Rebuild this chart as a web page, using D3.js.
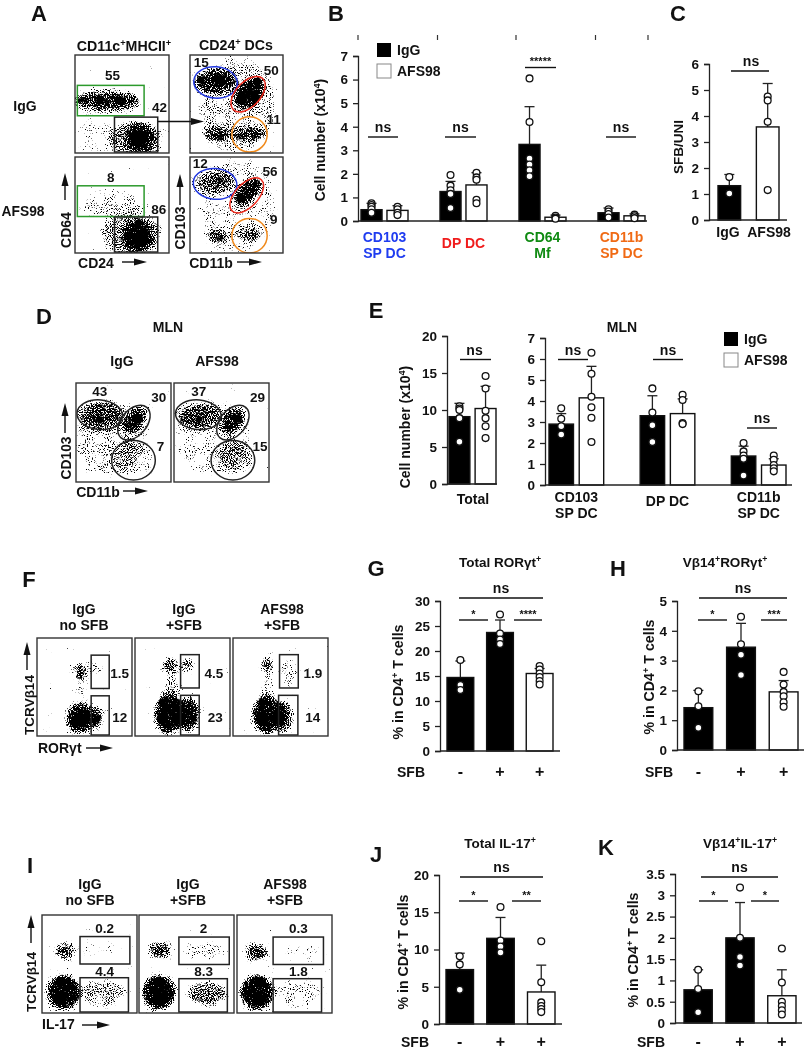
<!DOCTYPE html>
<html>
<head>
<meta charset="utf-8">
<script src="https://cdn.jsdelivr.net/npm/d3@7"></script>
<style>
  html, body { margin: 0; padding: 0; background: #fff; }
  svg { display: block; filter: blur(0.35px); }
  text { font-family: "Liberation Sans", Arial, sans-serif; font-weight: bold; fill: #111; }
</style>
</head>
<body>
<svg id="fig" width="805" height="1050"></svg>
<script>
// ---- bar chart values ----
const bCategories = [["CD103", "SP DC"], ["DP DC"], ["CD64", "Mf"], ["CD11b", "SP DC"]]
const bColors = ["#1f3cf0", "#f01c1c", "#0f8a12", "#f06a14"]
const bMeansIgG = [0.48, 1.25, 3.25, 0.35]
const bMeansAFS = [0.45, 1.53, 0.16, 0.22]
const bErrIgG = [0.75, 1.68, 4.85, 0.55]
const bErrAFS = [0.65, 2.05, 0.25, 0.3]
const bPtsIgG = [[0.75, 0.68, 0.6, 0.5, 0.35], [1.95, 1.5, 1.3, 1.15, 0.55], [6.05, 4.2, 2.65, 2.4, 2.15, 1.9], [0.5, 0.4, 0.3, 0.15]]
const bPtsAFS = [[0.6, 0.5, 0.35, 0.25], [2.05, 1.85, 1.75, 0.9, 0.75], [0.22, 0.15, 0.1], [0.27, 0.2, 0.12]]

const cMeans = [[1.32], [3.58]]
const cErr = [[1.75], [5.25]]
const cPts = [[[1.65, 1.02]], [[4.75, 4.6, 3.78, 1.15]]]

const eTotalMeans = [[9.1], [10.2]]
const eTotalErr = [[10.9], [13.2]]
const eTotalPts = [[[10.5, 10.2, 10, 8.9, 5.7]], [[14.6, 12.9, 9.9, 8.9, 7.8, 6.2]]]

const eCategories = [["CD103", "SP DC"], ["DP DC"], ["CD11b", "SP DC"]]
const eMeansIgG = [2.9, 3.3, 1.38]
const eMeansAFS = [4.15, 3.4, 0.95]
const eErrIgG = [3.4, 4.25, 1.85]
const eErrAFS = [5.65, 4.1, 1.25]
const ePtsIgG = [[3.65, 3.15, 2.8, 2.4], [4.6, 3.45, 2.85, 2.05], [2, 1.6, 1.4, 1.25, 0.45]]
const ePtsAFS = [[6.3, 5.3, 4.2, 3.7, 3.2, 2.05], [4.3, 4.05, 2.95, 2.9], [1.4, 1.2, 0.95, 0.8, 0.65]]

const sfbLabels = ["-", "+", "+"]
const sfbFills = ["#000", "#000", "#fff"]
const gMeans = [14.7, 23.7, 15.5]
const gErr = [18, 26.2, 16.5]
const gPts = [[18.2, 13.2, 12.2], [27.3, 23.5, 22.3, 21.4], [17, 16.3, 15.5, 14.8, 14, 13.3]]
const hMeans = [1.42, 3.45, 1.95]
const hErr = [2, 4.25, 2.33]
const hPts = [[1.97, 1.47, 0.75], [4.47, 3.55, 3.2, 2.52], [2.62, 2.2, 1.95, 1.8, 1.6, 1.45]]
const jMeans = [7.3, 11.5, 4.3]
const jErr = [9.5, 14.3, 7.9]
const jPts = [[9.1, 8, 4.6], [15.7, 11.2, 10.4, 9.6], [11.1, 5.6, 2.9, 2.4, 2, 1.6]]
const kMeans = [0.78, 2, 0.64]
const kErr = [1.25, 2.83, 1.25]
const kPts = [[1.25, 0.8, 0.25], [3.18, 2, 1.55, 1.35], [1.75, 0.95, 0.5, 0.4, 0.3, 0.2]]

// ---- flow plots: populations as [x%, y% from top, rx%, ry%, angle, density], no single events ----
const aCd64Igg = [[20, 82, 18, 16, 0, 0.22], [65, 85, 25, 15, 0, 0.55], [34, 47, 31, 9, 0, 0.8], [69, 85, 12, 13, 0, 1]]
const aCd64Afs = [[40, 50, 30, 12, 0, 0.32], [60, 80, 28, 18, 0, 0.5], [67, 83, 14, 14, 0, 1]]
const aCd103Igg = [[50, 50, 36, 42, 0, 0.34], [27, 27, 20, 10, 0, 0.8], [64, 39, 16, 10, -50, 1], [29, 81, 13, 6, 0, 0.7], [64, 81, 15, 6, 0, 0.7]]
const aCd103Afs = [[50, 50, 36, 42, 0, 0.28], [25, 26, 20, 10, 0, 0.55], [62, 36, 15, 8, -45, 0.9], [29, 83, 10, 6, 0, 0.65], [64, 81, 12, 6, 0, 0.55]]
const dIgg = [[35, 55, 33, 32, 0, 0.34], [25, 32, 20, 12, 0, 0.62], [62, 37, 14, 8, -50, 0.85], [60, 75, 18, 15, 0, 0.3]]
const dAfs = [[40, 55, 34, 32, 0, 0.28], [25, 33, 20, 11, 0, 0.62], [62, 38, 14, 8, -50, 0.85], [65, 75, 17, 14, 0, 0.42]]
const fNoSfb = [[46, 55, 5, 20, 0, 0.3], [46, 34, 6, 9, 0, 0.7], [62, 30, 6, 8, 0, 0.35], [60, 81, 8, 10, 0, 0.85], [45, 82, 12, 13, 0, 1]]
const fIggSfb = [[40, 50, 8, 15, 0, 0.38], [37, 27, 7, 6, 0, 0.8], [55, 28, 6, 6, 0, 0.7], [56, 78, 10, 15, 0, 0.95], [35, 77, 12, 18, 0, 1]]
const fAfsSfb = [[36, 50, 6, 15, 0, 0.32], [36, 27, 6, 6, 0, 0.8], [58, 35, 10, 12, 0, 0.3], [52, 80, 9, 14, 0, 0.85], [35, 78, 12, 17, 0, 1]]
const iNoSfb = [[60, 35, 20, 10, 0, 0.16], [65, 80, 20, 12, 0, 0.45], [24, 37, 9, 8, 0, 0.75], [23, 79, 15, 15, 0, 1]]
const iIggSfb = [[70, 37, 20, 10, 0, 0.28], [72, 80, 18, 11, 0, 0.62], [22, 36, 10, 8, 0, 0.75], [21, 79, 15, 15, 0, 1]]
const iAfsSfb = [[70, 40, 20, 8, 0, 0.18], [65, 80, 22, 12, 0, 0.3], [21, 38, 10, 8, 0, 0.75], [21, 79, 15, 15, 0, 1]]

const svg = d3.select("#fig")
const defs = svg.append("defs")
const sup = s => `<tspan baseline-shift="30%" font-size="65%">${s}</tspan>`

function txt(x, y, s, size, opts) {
  const o = opts || {}
  return svg.append("text")
    .attr("transform", o.rot ? `translate(${x},${y})rotate(${o.rot})` : `translate(${x},${y})`)
    .attr("text-anchor", o.anchor || "middle")
    .attr("dominant-baseline", "central")
    .attr("font-size", size)
    .style("fill", o.fill || "#111")
    .html(s)
}

// little black arrow next to the flow axis names
function arrow(x1, y1, x2, y2) {
  const a = Math.atan2(y2 - y1, x2 - x1) * 180 / Math.PI
  const len = Math.hypot(x2 - x1, y2 - y1)
  const g = svg.append("g").attr("transform", `translate(${x1},${y1})rotate(${a})`)
  g.append("line").attr("x2", len - 6).attr("stroke", "#111").attr("stroke-width", 1.4)
  g.append("path").attr("d", `M${len - 13},-3.5L${len},0L${len - 13},3.5Z`).attr("fill", "#111")
}

let plotId = 0
function flowPlot(x0, x1, y0, y1, clouds, gates, labels) {
  const x = d3.scaleLinear().domain([0, 100]).range([x0, x1])
  const y = d3.scaleLinear().domain([0, 100]).range([y0, y1])
  const id = "st" + (++plotId)
  // stipple texture for the dot clouds
  const f = defs.append("filter").attr("id", id)
    .attr("filterUnits", "userSpaceOnUse")
    .attr("x", x0).attr("y", y0).attr("width", x1 - x0).attr("height", y1 - y0)
    .attr("color-interpolation-filters", "sRGB")
  f.append("feGaussianBlur").attr("in", "SourceAlpha").attr("stdDeviation", 3.4).attr("result", "soft")
  f.append("feTurbulence").attr("type", "fractalNoise").attr("baseFrequency", 1.05).attr("numOctaves", 1).attr("seed", plotId * 7).attr("result", "tb")
  f.append("feColorMatrix").attr("in", "tb").attr("values", "0 0 0 0 0  0 0 0 0 0  0 0 0 0 0  0 0 0 1 0").attr("result", "noise")
  f.append("feComposite").attr("in", "soft").attr("in2", "noise").attr("operator", "arithmetic")
    .attr("k1", 0).attr("k2", 0.52).attr("k3", 1).attr("k4", -0.76).attr("result", "mix")
  f.append("feComponentTransfer").attr("in", "mix").append("feFuncA").attr("type", "linear").attr("slope", 12).attr("intercept", 0)

  const clip = defs.append("clipPath").attr("id", id + "c")
  clip.append("rect").attr("x", x0).attr("y", y0).attr("width", x1 - x0).attr("height", y1 - y0)

  const dots = svg.append("g").attr("filter", `url(#${id})`)
  dots.append("rect").attr("x", x0).attr("y", y0).attr("width", x1 - x0).attr("height", y1 - y0).attr("fill", "#000").attr("fill-opacity", 0.001)
  // the blur eats the rim of each cloud, so draw them a bit wider
  dots.selectAll("ellipse").data(clouds).enter().append("ellipse")
    .attr("transform", d => `translate(${x(d[0])},${y(d[1])})rotate(${d[4]})`)
    .attr("rx", d => (x(d[2]) - x0) * 1.18)
    .attr("ry", d => (y(d[3]) - y0) * 1.18)
    .attr("fill", "#000")
    .attr("fill-opacity", d => d[5])

  const g = svg.append("g").attr("clip-path", `url(#${id}c)`)
  ;(gates || []).forEach(t => {
    if (t.rect) {
      g.append("rect").attr("x", x(t.rect[0])).attr("y", y(t.rect[2]))
        .attr("width", x(t.rect[1]) - x(t.rect[0])).attr("height", y(t.rect[3]) - y(t.rect[2]))
        .attr("fill", "none").attr("stroke", t.c || "#222").attr("stroke-width", 1.5)
    } else {
      g.append("ellipse").attr("transform", `translate(${x(t.el[0])},${y(t.el[1])})rotate(${t.el[4] || 0})`)
        .attr("rx", x(t.el[2]) - x0).attr("ry", y(t.el[3]) - y0)
        .attr("fill", "none").attr("stroke", t.c || "#222").attr("stroke-width", 1.5)
    }
  })
  svg.append("rect").attr("x", x0).attr("y", y0).attr("width", x1 - x0).attr("height", y1 - y0)
    .attr("fill", "none").attr("stroke", "#333").attr("stroke-width", 1.4)
  ;(labels || []).forEach(l => txt(x(l[1]), y(l[2]), l[0], 13.5))
}

// one bar panel: groups along x, one or two bars in each group
function barChart(o) {
  const y = d3.scaleLinear().domain([0, o.yMax]).range([o.y0, o.yTop])
  const nGroups = o.means[0].length
  const gx = d3.scaleBand().domain(d3.range(nGroups)).range(o.barRange).paddingInner(o.groupPad || 0)
  const sx = d3.scaleBand().domain(d3.range(o.means.length)).range([0, gx.bandwidth()]).paddingInner(o.barPad || 0)

  svg.append("g")
    .attr("transform", `translate(${o.axisX},0)`)
    .call(d3.axisLeft(y).tickValues(o.ticks).tickFormat(d => d).tickSize(5).tickPadding(5))
    .call(g => g.selectAll("path,line").attr("stroke", "#222").attr("stroke-width", 1.3))
    .call(g => g.selectAll("text").attr("font-size", 13.5).attr("font-family", null))

  const bars = []
  o.means.forEach((ser, s) => ser.forEach((m, i) => bars.push({
    x: gx(i) + sx(s), mean: m, err: o.errs[s][i], pts: o.pts[s][i], fill: o.fill(s, i)
  })))

  svg.selectAll(null).data(bars).enter().append("line")
    .attr("x1", d => d.x + sx.bandwidth() / 2).attr("x2", d => d.x + sx.bandwidth() / 2)
    .attr("y1", d => y(d.mean)).attr("y2", d => y(d.err))
    .attr("stroke", "#222").attr("stroke-width", 1.3)
  svg.selectAll(null).data(bars).enter().append("line")
    .attr("x1", d => d.x + sx.bandwidth() / 2 - 5).attr("x2", d => d.x + sx.bandwidth() / 2 + 5)
    .attr("y1", d => y(d.err)).attr("y2", d => y(d.err))
    .attr("stroke", "#222").attr("stroke-width", 1.3)
  svg.selectAll(null).data(bars).enter().append("rect")
    .attr("x", d => d.x).attr("y", d => y(d.mean))
    .attr("width", sx.bandwidth()).attr("height", d => o.y0 - y(d.mean))
    .attr("fill", d => d.fill).attr("stroke", "#111").attr("stroke-width", 1.4)

  svg.append("line").attr("x1", o.axisX).attr("x2", o.axisEnd).attr("y1", o.y0).attr("y2", o.y0)
    .attr("stroke", "#222").attr("stroke-width", 1.3)

  bars.forEach(b => {
    svg.selectAll(null).data(b.pts).enter().append("circle")
      .attr("cx", b.x + sx.bandwidth() / 2).attr("cy", d => y(d)).attr("r", 3.4)
      .attr("fill", "#fff").attr("stroke", "#111").attr("stroke-width", 1.3)
  })

  ;(o.brackets || []).forEach(b => {
    svg.append("line").attr("x1", b[0]).attr("x2", b[1]).attr("y1", b[2]).attr("y2", b[2])
      .attr("stroke", "#111").attr("stroke-width", 1.4)
    const isNs = b[3] === "ns"
    txt((b[0] + b[1]) / 2 + (b[4] || 0), b[2] + (isNs ? -10 : -6.5), b[3], isNs ? 14 : 11)
  })
  return { gx, sx, y }
}

// ---- panel letters ----
;[["A", 39, 13], ["B", 336, 13], ["C", 678, 13], ["D", 44, 316], ["E", 376, 310], ["F", 29, 579],
  ["G", 376, 568], ["H", 618, 568], ["I", 30, 865], ["J", 376, 854], ["K", 606, 847]]
  .forEach(d => txt(d[1], d[2], d[0], 22))

// ---- A ----
txt(124, 46, `CD11c${sup("+")}MHCII${sup("+")}`, 14.2)
txt(236, 45, `CD24${sup("+")} DCs`, 14.2)
txt(25, 106, "IgG", 14)
txt(23, 211, "AFS98", 13.8)
const green = "#2c9a2c", blue = "#2238e0", red = "#ee2a1c", orange = "#f08a1c"
flowPlot(75, 169, 55, 153, aCd64Igg,
  [{ rect: [2.5, 73.5, 31, 62], c: green }, { rect: [42, 88, 63.4, 99] }],
  [["55", 40, 21.4], ["42", 90, 54]])
flowPlot(75, 169, 157, 253, aCd64Afs,
  [{ rect: [2.5, 73.5, 30, 62], c: green }, { rect: [42, 88, 62.5, 99] }],
  [["8", 38, 21], ["86", 89, 55]])
flowPlot(190, 283, 55, 153, aCd103Igg,
  [{ el: [27.5, 28, 23.5, 16, 5], c: blue }, { el: [62.5, 40, 23, 12.5, -47], c: red }, { el: [64, 81, 19, 18], c: orange }],
  [["15", 12, 8], ["50", 87.5, 16], ["11", 90, 66]])
flowPlot(190, 283, 157, 253, aCd103Afs,
  [{ el: [27, 28, 23.5, 16, 5], c: blue }, { el: [61, 40, 23, 12, -47], c: red }, { el: [64, 82, 19, 18], c: orange }],
  [["12", 11, 7], ["56", 86, 15], ["9", 90, 65.5]])
arrow(158, 121.5, 204, 121.5)
txt(66, 230, "CD64", 14, { rot: -90 })
arrow(65, 200, 65, 173)
txt(96, 263, "CD24", 14)
arrow(122, 262, 147, 262)
txt(180, 228, "CD103", 13.8, { rot: -90 })
arrow(180, 205, 180, 174)
txt(211, 263, "CD11b", 14)
arrow(237, 262, 262, 262)

// ---- B ----
const twoFill = s => s === 0 ? "#000" : "#fff"
const chartB = barChart({
  axisX: 358, axisEnd: 647, y0: 221, yTop: 56, yMax: 7, ticks: d3.range(0, 8),
  barRange: [361, 645], groupPad: 0.405, barPad: 0.19,
  means: [bMeansIgG, bMeansAFS], errs: [bErrIgG, bErrAFS], pts: [bPtsIgG, bPtsAFS], fill: twoFill,
  brackets: [[368, 398, 137, "ns"], [445, 476, 137, "ns"], [525, 556, 67.5, "*****"], [606, 636, 137, "ns"]]
})
bCategories.forEach((c, i) => {
  const cx = chartB.gx(i) + chartB.gx.bandwidth() / 2
  c.forEach((t, k) => txt(cx, c.length === 1 ? 243 : 236.5 + k * 16, t, 14, { fill: bColors[i] }))
})
;[358, 437.5, 516, 595.5, 648].forEach(x => svg.append("line").attr("x1", x).attr("x2", x).attr("y1", 35).attr("y2", 40).attr("stroke", "#333").attr("stroke-width", 1.2))
function legend(x, y1, y2, dx) {
  svg.append("rect").attr("x", x).attr("y", y1).attr("width", 14).attr("height", 14).attr("fill", "#000")
  svg.append("rect").attr("x", x).attr("y", y2).attr("width", 14).attr("height", 14).attr("fill", "#fff").attr("stroke", "#888").attr("stroke-width", 1)
  txt(x + dx, y1 + 7, "IgG", 14, { anchor: "start" })
  txt(x + dx, y2 + 7, "AFS98", 14, { anchor: "start" })
}
legend(377, 43, 64, 20)
txt(320, 140, `Cell number (x10${sup("4")})`, 14, { rot: -90 })

// ---- C ----
barChart({
  axisX: 709, axisEnd: 787, y0: 220, yTop: 64, yMax: 6, ticks: d3.range(0, 7),
  barRange: [718, 779], barPad: 0.41,
  means: cMeans, errs: cErr, pts: cPts, fill: twoFill,
  brackets: [[731, 769, 71, "ns", 1]]
})
txt(728, 231.5, "IgG", 14)
txt(769, 231.5, "AFS98", 14)
txt(678, 147, "SFB/UNI", 13.5, { rot: -90 })

// ---- D ----
txt(168, 327, "MLN", 14)
txt(122, 361, "IgG", 14)
txt(217, 361, "AFS98", 14)
flowPlot(76, 171, 383, 482, dIgg,
  [{ el: [25, 32, 24, 15, 5] }, { el: [61, 40, 21, 13, -50] }, { el: [60.5, 78, 23, 20] }],
  [["43", 25, 9], ["30", 87, 15], ["7", 89, 64]])
flowPlot(174, 269, 383, 482, dAfs,
  [{ el: [25.6, 32, 24, 15, 5] }, { el: [62, 40, 21, 13, -50] }, { el: [62, 78, 23, 20] }],
  [["37", 26, 9], ["29", 88, 15], ["15", 90.5, 64]])
txt(66, 458, "CD103", 13.8, { rot: -90 })
arrow(65, 433, 65, 403)
txt(98, 492, "CD11b", 14)
arrow(123, 491, 148, 491)

// ---- E ----
barChart({
  axisX: 447, axisEnd: 497, y0: 484, yTop: 336, yMax: 20, ticks: [0, 5, 10, 15, 20],
  barRange: [449, 496], barPad: 0.2,
  means: eTotalMeans, errs: eTotalErr, pts: eTotalPts, fill: twoFill,
  brackets: [[460, 491, 359.5, "ns", -1]]
})
txt(473, 499, "Total", 14)
const chartE = barChart({
  axisX: 545, axisEnd: 792, y0: 485, yTop: 338, yMax: 7, ticks: d3.range(0, 8),
  barRange: [549, 786], groupPad: 0.4, barPad: 0.19,
  means: [eMeansIgG, eMeansAFS], errs: [eErrIgG, eErrAFS], pts: [ePtsIgG, ePtsAFS], fill: twoFill,
  brackets: [[558, 588, 359.5, "ns"], [653, 683, 359.5, "ns"], [747, 777, 428, "ns"]]
})
eCategories.forEach((c, i) => {
  const cx = chartE.gx(i) + chartE.gx.bandwidth() / 2
  c.forEach((t, k) => txt(cx, c.length === 1 ? 501 : 497 + k * 16, t, 14))
})
txt(622, 327, "MLN", 14)
legend(724, 332, 353, 20)
txt(405, 427, `Cell number (x10${sup("4")})`, 14, { rot: -90 })

// ---- F ----
const fi = [[84, `IgG`, `no SFB`], [184, `IgG`, `+SFB`], [282, `AFS98`, `+SFB`]]
fi.forEach(d => { txt(d[0], 609, d[1], 14); txt(d[0], 625, d[2], 14) })
flowPlot(37, 132, 638, 736, fNoSfb,
  [{ rect: [57, 76, 17.5, 51.5] }, { rect: [57, 76, 59, 99] }],
  [["1.5", 87, 36.5], ["12", 87, 81]])
flowPlot(135, 230, 638, 736, fIggSfb,
  [{ rect: [48, 67.6, 17, 51] }, { rect: [48, 67.6, 58.5, 99] }],
  [["4.5", 83, 36.5], ["23", 84.5, 81]])
flowPlot(233, 328, 638, 736, fAfsSfb,
  [{ rect: [49, 68.7, 17, 51] }, { rect: [48, 68.3, 58.5, 99] }],
  [["1.9", 84, 36.5], ["14", 84, 81]])
txt(29, 705, "TCRV\u03b214", 13.5, { rot: -90 })
arrow(27, 670, 27, 642)
txt(38, 748, "ROR\u03b3t", 14, { anchor: "start" })
arrow(86, 748, 113, 748)

// ---- G, H, J, K ----
const oneFill = (s, i) => sfbFills[i]
function sfbChart(o, sfbX, sfbY) {
  const c = barChart(Object.assign({ fill: oneFill, groupPad: 0.325 }, o))
  txt(sfbX, sfbY + 1, "SFB", 14)
  sfbLabels.forEach((t, i) => txt(c.gx(i) + c.gx.bandwidth() / 2, sfbY, t, 16))
}
txt(500, 562, `Total ROR\u03b3t${sup("+")}`, 13.5)
sfbChart({ axisX: 440, axisEnd: 560, y0: 751, yTop: 601, yMax: 30, ticks: [0, 5, 10, 15, 20, 25, 30], barRange: [447, 553],
  means: [gMeans], errs: [gErr], pts: [gPts],
  brackets: [[459, 543, 598, "ns"], [459, 488, 620, "*"], [514, 542, 620, "****"]] }, 411, 771)
txt(398, 682, `% in CD4${sup("+")} T cells`, 14.2, { rot: -90 })

txt(725, 562, `V\u03b214${sup("+")}ROR\u03b3t${sup("+")}`, 13.5)
sfbChart({ axisX: 677, axisEnd: 804, y0: 750, yTop: 601, yMax: 5, ticks: d3.range(0, 6), barRange: [684, 798],
  means: [hMeans], errs: [hErr], pts: [hPts],
  brackets: [[699, 787, 598, "ns"], [698, 727, 620, "*"], [761, 787, 620, "***"]] }, 659, 771)
txt(649, 677, `% in CD4${sup("+")} T cells`, 14.2, { rot: -90 })

txt(500, 843, `Total IL-17${sup("+")}`, 13.5)
sfbChart({ axisX: 439, axisEnd: 562, y0: 1024, yTop: 875, yMax: 20, ticks: [0, 5, 10, 15, 20], barRange: [446, 555],
  means: [jMeans], errs: [jErr], pts: [jPts],
  brackets: [[460, 543, 877, "ns"], [459, 488, 901, "*"], [512, 541, 901, "**"]] }, 415, 1041)
txt(403, 952, `% in CD4${sup("+")} T cells`, 14.2, { rot: -90 })

txt(740, 843, `V\u03b214${sup("+")}IL-17${sup("+")}`, 13.5)
sfbChart({ axisX: 675, axisEnd: 802, y0: 1023, yTop: 874, yMax: 3.5, ticks: [0, 0.5, 1, 1.5, 2, 2.5, 3, 3.5], barRange: [684, 796],
  means: [kMeans], errs: [kErr], pts: [kPts],
  brackets: [[701, 778, 877, "ns"], [699, 728, 901, "*"], [751, 779, 901, "*"]] }, 651, 1041)
txt(633, 950, `% in CD4${sup("+")} T cells`, 14.2, { rot: -90 })

// ---- I ----
const ii = [[90, `IgG`, `no SFB`], [188, `IgG`, `+SFB`], [285, `AFS98`, `+SFB`]]
ii.forEach(d => { txt(d[0], 884, d[1], 14); txt(d[0], 900, d[2], 14) })
flowPlot(42, 137, 915, 1013, iNoSfb,
  [{ rect: [40, 92.5, 22, 50] }, { rect: [40, 91, 64, 99] }],
  [["0.2", 66, 13.6], ["4.4", 66, 58]])
flowPlot(139, 234, 915, 1013, iIggSfb,
  [{ rect: [42, 95, 22.5, 50.5] }, { rect: [42, 93, 65, 99] }],
  [["2", 68, 13.6], ["8.3", 68, 58]])
flowPlot(237, 332, 915, 1013, iAfsSfb,
  [{ rect: [38, 91, 22.5, 50.5] }, { rect: [38, 89, 65, 99] }],
  [["0.3", 64.5, 13.6], ["1.8", 64.5, 58]])
txt(31, 982, "TCRV\u03b214", 13.5, { rot: -90 })
arrow(31, 943, 31, 915)
txt(42, 1024, "IL-17", 14, { anchor: "start" })
arrow(82, 1025, 110, 1025)
</script>
</body>
</html>
